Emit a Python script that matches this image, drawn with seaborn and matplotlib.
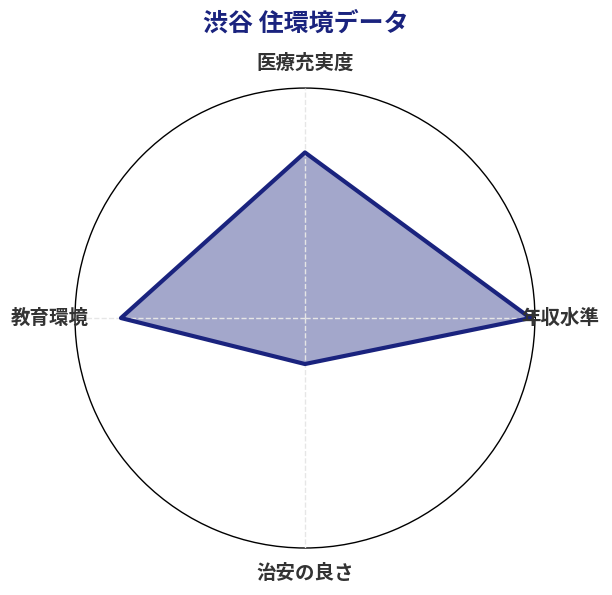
import numpy as np
import pandas as pd
import seaborn as sns
import matplotlib.pyplot as plt

# データ
categories = ['年収水準', '医療充実度', '教育環境', '治安の良さ']
values = [98, 72, 80, 20]
title = '渋谷 住環境データ'

sns.set_theme(style='white')
plt.rcParams['font.family'] = ['Noto Sans CJK JP', 'DejaVu Sans']

angles = np.linspace(0, 2 * np.pi, len(categories), endpoint=False)
df = pd.DataFrame({
    'angle': np.append(angles, 2 * np.pi),
    'value': values + values[:1],
})

fig = plt.figure(figsize=(6.12, 5.95), dpi=100)
ax = fig.add_axes([0.1225, 0.079, 0.7516, 0.773], projection='polar')

navy = '#1a237e'
ax.fill(df['angle'], df['value'], color=navy, alpha=0.4, zorder=2)
sns.lineplot(data=df, x='angle', y='value', sort=False, estimator=None,
             ax=ax, color=navy, linewidth=3, zorder=3)

ax.set_ylim(0, 100)
ax.set_yticks([])
ax.set_xticks(angles)
ax.set_xticklabels([])
ax.set_xlabel('')
ax.set_ylabel('')
ax.set_axisbelow(False)
ax.xaxis.grid(True, color='#e6e6e6', linestyle='--', linewidth=1, zorder=4)
ax.spines['polar'].set_color('black')
ax.spines['polar'].set_linewidth(1)

for a, lab in zip(angles, categories):
    ax.text(a, 111, lab, ha='center', va='center', fontsize=14,
            fontweight='bold', color='#333333', clip_on=False, zorder=5)

fig.suptitle(title, x=0.5, y=0.982, fontsize=18, fontweight='bold', color=navy)

fig.savefig('out.png', dpi=100)
